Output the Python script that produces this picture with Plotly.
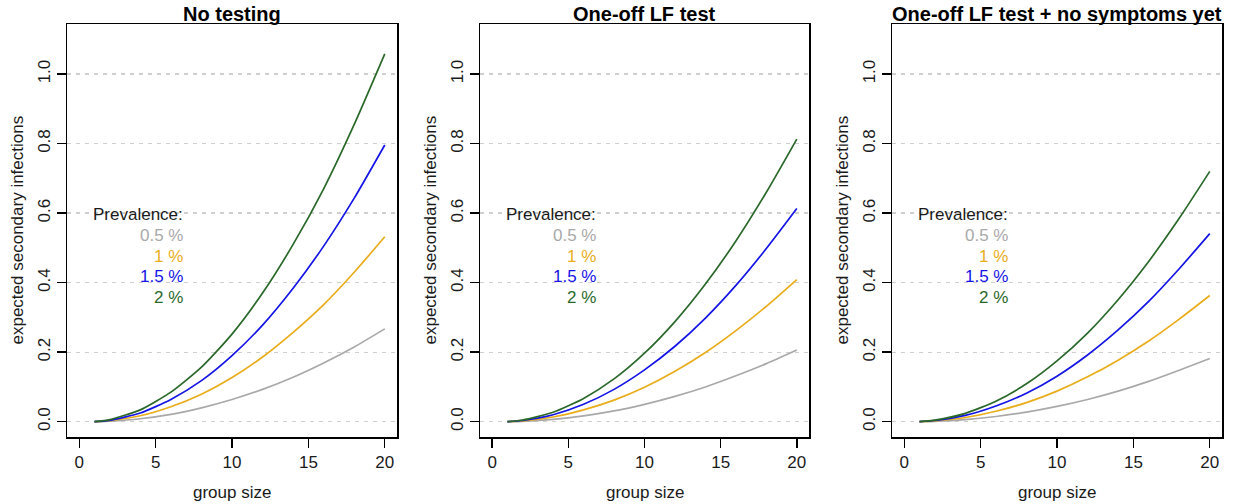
import plotly.graph_objects as go

# ---- data ----
group_size = [1, 2, 4, 6, 8, 10, 12, 14, 16, 18, 20]
panel_titles = ["No testing", "One-off LF test", "One-off LF test + no symptoms yet"]
prevalence_labels = ["0.5 %", "1 %", "1.5 %", "2 %"]
colors = ["#a9a9a9", "#e9ad1c", "#1414e6", "#2a682a"]

no_testing_05 = [0, 0.0015, 0.0085, 0.021, 0.040, 0.064, 0.093, 0.128, 0.169, 0.215, 0.267]
no_testing_10 = [0, 0.003, 0.017, 0.043, 0.079, 0.127, 0.186, 0.257, 0.337, 0.430, 0.532]
no_testing_15 = [0, 0.004, 0.025, 0.064, 0.118, 0.190, 0.278, 0.384, 0.505, 0.643, 0.796]
no_testing_20 = [0, 0.006, 0.034, 0.085, 0.157, 0.252, 0.370, 0.510, 0.670, 0.855, 1.058]

lf_test_05 = [0, 0.0012, 0.0068, 0.017, 0.031, 0.050, 0.073, 0.100, 0.132, 0.167, 0.206]
lf_test_10 = [0, 0.0023, 0.0135, 0.034, 0.062, 0.099, 0.145, 0.199, 0.262, 0.332, 0.409]
lf_test_15 = [0, 0.0035, 0.020, 0.050, 0.093, 0.149, 0.217, 0.298, 0.392, 0.498, 0.613]
lf_test_20 = [0, 0.005, 0.027, 0.067, 0.123, 0.197, 0.288, 0.396, 0.520, 0.660, 0.813]

lf_nosym_05 = [0, 0.0011, 0.006, 0.015, 0.0275, 0.044, 0.064, 0.088, 0.116, 0.148, 0.182]
lf_nosym_10 = [0, 0.0023, 0.012, 0.030, 0.055, 0.088, 0.129, 0.177, 0.232, 0.295, 0.363]
lf_nosym_15 = [0, 0.0034, 0.018, 0.045, 0.082, 0.131, 0.192, 0.264, 0.346, 0.440, 0.541]
lf_nosym_20 = [0, 0.0045, 0.024, 0.059, 0.109, 0.175, 0.255, 0.351, 0.461, 0.585, 0.720]

panels = [
    [no_testing_05, no_testing_10, no_testing_15, no_testing_20],
    [lf_test_05, lf_test_10, lf_test_15, lf_test_20],
    [lf_nosym_05, lf_nosym_10, lf_nosym_15, lf_nosym_20],
]

x_ticks = [0, 5, 10, 15, 20]
y_ticks = [0.0, 0.2, 0.4, 0.6, 0.8, 1.0]
y_tick_text = ["0.0", "0.2", "0.4", "0.6", "0.8", "1.0"]
legend_y = [0.536, 0.476, 0.417, 0.358]
legend_title_y = 0.597
legend_x = 6.93

# ---- layout geometry (page pixels; body margin removed via post_script) ----
W, H = 1240, 504
box_left = [67, 480, 892]
box_right = [397, 809, 1222]
box_top, box_bottom = 24, 437
title_y = 14
xtitle_y = 492
FONT = "Liberation Sans, Arial, Helvetica, sans-serif"

fig = go.Figure()
annotations = []
for i, series in enumerate(panels):
    xa = "x" if i == 0 else f"x{i+1}"
    ya = "y" if i == 0 else f"y{i+1}"
    for s, vals in enumerate(series):
        fig.add_trace(go.Scatter(
            x=group_size, y=vals, mode="lines",
            line=dict(color=colors[s], width=1.7, shape="spline", smoothing=0.6),
            xaxis=xa, yaxis=ya, showlegend=False, hoverinfo="skip"))
    dom_x = [box_left[i] / W, box_right[i] / W]
    dom_y = [1 - box_bottom / H, 1 - box_top / H]
    axis_common = dict(showline=True, mirror=True, linecolor="black", linewidth=1.5,
                       ticks="outside", ticklen=9, tickwidth=1.4, tickcolor="black",
                       zeroline=False,
                       tickfont=dict(family=FONT, size=17, color="#1a1a1a"))
    fig.update_layout(**{
        ("xaxis" if i == 0 else f"xaxis{i+1}"): dict(
            domain=dom_x, range=[-0.8, 20.8], tickvals=x_ticks,
            showgrid=False, anchor=ya, **axis_common),
        ("yaxis" if i == 0 else f"yaxis{i+1}"): dict(
            domain=dom_y, range=[-0.044, 1.144], tickvals=y_ticks, ticktext=y_tick_text,
            tickangle=-90, showgrid=True, gridcolor="#cfcfcf", gridwidth=1.3,
            griddash="4px,5px", anchor=xa, **axis_common),
    })
    # title
    annotations.append(dict(
        text=f"<b>{panel_titles[i]}</b>", xref="paper", yref="paper",
        x=(box_left[i] + box_right[i]) / 2 / W, y=1 - title_y / H,
        xanchor="center", yanchor="middle", showarrow=False,
        font=dict(family=FONT, size=20, color="black")))
    # x title
    annotations.append(dict(
        text="group size", xref="paper", yref="paper",
        x=(box_left[i] + box_right[i]) / 2 / W, y=1 - xtitle_y / H,
        xanchor="center", yanchor="middle", showarrow=False,
        font=dict(family=FONT, size=17, color="#1a1a1a")))
    # y title
    annotations.append(dict(
        text="expected secondary infections", xref="paper", yref="paper",
        x=(box_left[i] - 50) / W, y=1 - (box_top + box_bottom) / 2 / H,
        xanchor="center", yanchor="middle", textangle=-90, showarrow=False,
        font=dict(family=FONT, size=17, color="#1a1a1a")))
    # legend text
    annotations.append(dict(
        text="Prevalence:", xref=xa, yref=ya, x=legend_x, y=legend_title_y,
        xanchor="right", yanchor="middle", showarrow=False,
        font=dict(family=FONT, size=17, color="#1a1a1a")))
    for s, lab in enumerate(prevalence_labels):
        annotations.append(dict(
            text=lab, xref=xa, yref=ya, x=legend_x, y=legend_y[s],
            xanchor="right", yanchor="middle", showarrow=False,
            font=dict(family=FONT, size=17, color=colors[s])))

fig.update_layout(
    width=W, height=H, margin=dict(l=0, r=0, t=0, b=0),
    paper_bgcolor="white", plot_bgcolor="white",
    annotations=annotations, showlegend=False)

fig.write_html(
    "out.html",
    config={"displayModeBar": False, "staticPlot": True},
    post_script="document.body.style.margin='0';document.body.style.overflow='hidden';")
